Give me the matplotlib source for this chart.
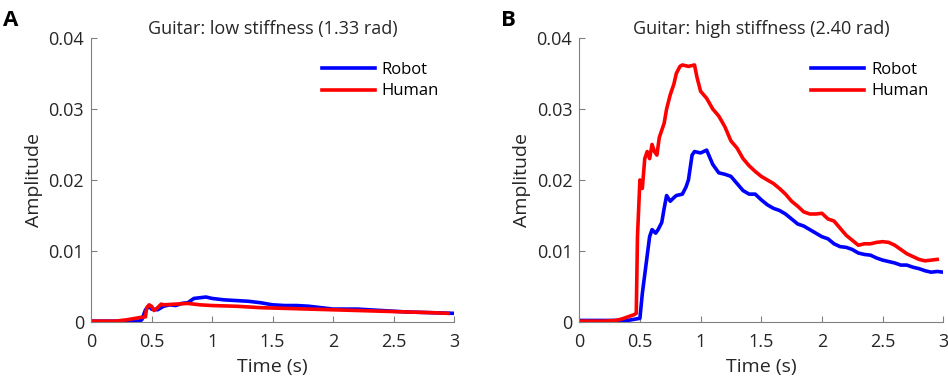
import matplotlib.pyplot as plt

plt.rcParams['font.family'] = ['Open Sans', 'DejaVu Sans']

# panel A: low stiffness
t_robot_a = [0.0, 0.2, 0.4, 0.42, 0.45, 0.48, 0.5, 0.55, 0.6, 0.65, 0.7, 0.75, 0.8, 0.85,
             0.9, 0.95, 1.0, 1.1, 1.2, 1.3, 1.4, 1.5, 1.6, 1.7, 1.8, 1.9, 2.0, 2.2, 2.4,
             2.6, 2.8, 3.0]
robot_a = [0.0001, 0.0001, 0.0001, 0.0003, 0.0017, 0.0022, 0.0018, 0.0017, 0.0022, 0.0024,
           0.0023, 0.0026, 0.0027, 0.0033, 0.0034, 0.0035, 0.0033, 0.0031, 0.0030, 0.0029,
           0.0027, 0.0024, 0.0023, 0.0023, 0.0022, 0.0020, 0.0018, 0.0018, 0.0016, 0.0014,
           0.0013, 0.0012]
t_human_a = [0.0, 0.2, 0.3, 0.4, 0.45, 0.46, 0.48, 0.5, 0.52, 0.55, 0.58, 0.6, 0.7, 0.8,
             0.9, 1.0, 1.2, 1.4, 1.6, 1.8, 2.0, 2.2, 2.4, 2.6, 2.8, 2.95]
human_a = [0.0001, 0.0001, 0.0003, 0.0006, 0.0007, 0.0020, 0.0024, 0.0022, 0.0016, 0.0020,
           0.0025, 0.0024, 0.0025, 0.0026, 0.0024, 0.0023, 0.0022, 0.0020, 0.0019, 0.0018,
           0.0017, 0.0016, 0.0015, 0.0014, 0.0013, 0.0012]

# panel B: high stiffness
t_robot_b = [0.0, 0.2, 0.4, 0.5, 0.52, 0.55, 0.58, 0.6, 0.63, 0.65, 0.68, 0.7, 0.72, 0.75,
             0.78, 0.8, 0.85, 0.88, 0.9, 0.93, 0.95, 1.0, 1.05, 1.08, 1.1, 1.15, 1.2, 1.25,
             1.3, 1.35, 1.4, 1.45, 1.5, 1.55, 1.6, 1.65, 1.7, 1.75, 1.8, 1.85, 1.9, 1.95,
             2.0, 2.05, 2.1, 2.15, 2.2, 2.25, 2.3, 2.35, 2.4, 2.45, 2.5, 2.55, 2.6, 2.65,
             2.7, 2.75, 2.8, 2.85, 2.9, 2.95, 3.0]
robot_b = [0.0002, 0.0002, 0.0002, 0.0005, 0.0040, 0.0080, 0.0120, 0.0130, 0.0125, 0.0130,
           0.0140, 0.0160, 0.0178, 0.0170, 0.0175, 0.0178, 0.0180, 0.0190, 0.0200, 0.0235,
           0.0240, 0.0238, 0.0242, 0.0230, 0.0222, 0.0210, 0.0208, 0.0205, 0.0195, 0.0185,
           0.0180, 0.0180, 0.0172, 0.0165, 0.0160, 0.0157, 0.0152, 0.0145, 0.0138, 0.0135,
           0.0130, 0.0125, 0.0120, 0.0117, 0.0110, 0.0106, 0.0105, 0.0102, 0.0097, 0.0095,
           0.0094, 0.0090, 0.0087, 0.0085, 0.0083, 0.0080, 0.0080, 0.0077, 0.0075, 0.0072,
           0.0070, 0.0071, 0.0070]
t_human_b = [0.0, 0.2, 0.3, 0.35, 0.4, 0.45, 0.47, 0.48, 0.5, 0.52, 0.54, 0.56, 0.58, 0.6,
             0.62, 0.64, 0.66, 0.7, 0.72, 0.75, 0.78, 0.8, 0.83, 0.85, 0.9, 0.95, 0.97, 1.0,
             1.05, 1.1, 1.15, 1.2, 1.25, 1.3, 1.35, 1.4, 1.45, 1.5, 1.55, 1.6, 1.65, 1.7,
             1.75, 1.8, 1.85, 1.9, 1.95, 2.0, 2.05, 2.1, 2.15, 2.2, 2.25, 2.3, 2.35, 2.4,
             2.45, 2.5, 2.55, 2.6, 2.65, 2.7, 2.75, 2.8, 2.85, 2.9, 2.95]
human_b = [0.0001, 0.0001, 0.0002, 0.0004, 0.0007, 0.0010, 0.0012, 0.0120, 0.0200, 0.0188,
           0.0230, 0.0240, 0.0230, 0.0250, 0.0240, 0.0235, 0.0260, 0.0280, 0.0300, 0.0320,
           0.0335, 0.0350, 0.0360, 0.0362, 0.0360, 0.0362, 0.0345, 0.0325, 0.0315, 0.0300,
           0.0290, 0.0275, 0.0255, 0.0245, 0.0230, 0.0220, 0.0212, 0.0205, 0.0200, 0.0195,
           0.0188, 0.0180, 0.0170, 0.0163, 0.0155, 0.0152, 0.0152, 0.0153, 0.0145, 0.0142,
           0.0132, 0.0122, 0.0115, 0.0108, 0.0110, 0.0110, 0.0112, 0.0113, 0.0112, 0.0108,
           0.0102, 0.0096, 0.0092, 0.0088, 0.0086, 0.0087, 0.0088]

titles = ['Guitar: low stiffness (1.33 rad)', 'Guitar: high stiffness (2.40 rad)']
panel_labels = ['A', 'B']
x_ticks = [0, 0.5, 1, 1.5, 2, 2.5, 3]
y_ticks = [0, 0.01, 0.02, 0.03, 0.04]

fig = plt.figure(figsize=(9.48, 3.8), dpi=100)
ax_a = fig.add_axes([0.096, 0.153, 0.383, 0.747])
ax_b = fig.add_axes([0.611, 0.153, 0.384, 0.747])

panels = [
    (ax_a, t_robot_a, robot_a, t_human_a, human_a),
    (ax_b, t_robot_b, robot_b, t_human_b, human_b),
]

for i, (ax, tr, r, th, h) in enumerate(panels):
    ax.plot(tr, r, color='#0000ff', lw=2.6, label='Robot')
    ax.plot(th, h, color='#ff0000', lw=2.6, label='Human')
    ax.set_xlim(0, 3)
    ax.set_ylim(0, 0.04)
    ax.set_xticks(x_ticks)
    ax.set_xticklabels(['0', '0.5', '1', '1.5', '2', '2.5', '3'])
    ax.set_yticks(y_ticks)
    ax.set_yticklabels(['0', '0.01', '0.02', '0.03', '0.04'])
    ax.tick_params(direction='in', length=4, colors='#808080', labelcolor='#262626',
                   labelsize=13)
    ax.tick_params(axis='x', pad=8)
    ax.tick_params(axis='y', pad=5)
    for side in ['top', 'right']:
        ax.spines[side].set_visible(False)
    for side in ['left', 'bottom']:
        ax.spines[side].set_color('#808080')
    ax.set_xlabel('Time (s)', fontsize=14, color='#262626', labelpad=5)
    ax.set_ylabel('Amplitude', fontsize=14, color='#262626', labelpad=4)
    ax.set_title(titles[i], fontsize=13, color='#262626', pad=3)
    ax.legend(loc='upper right', frameon=False, fontsize=12, handlelength=3.2,
              handletextpad=0.4, labelspacing=0.35, borderaxespad=0.5,
              bbox_to_anchor=(1.0, 0.97))

fig.text(0.003, 0.975, panel_labels[0], fontsize=16, fontweight='bold', va='top')
fig.text(0.528, 0.975, panel_labels[1], fontsize=16, fontweight='bold', va='top')

fig.savefig('out.png', dpi=100)
